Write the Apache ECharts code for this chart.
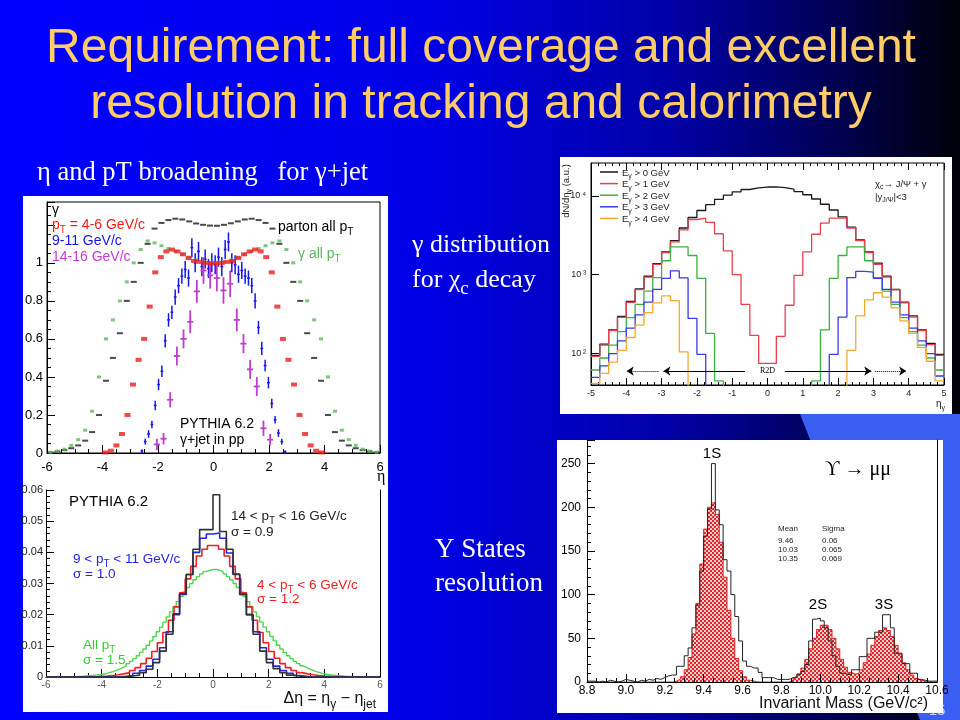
<!DOCTYPE html>
<html><head><meta charset="utf-8">
<script src="https://cdn.jsdelivr.net/npm/echarts@6/dist/echarts.min.js"></script>
<style>html,body{margin:0;padding:0;background:#0000c0;}#c{width:960px;height:720px;}</style>
</head><body><div id="c"></div>
<script>
// ================= DATA =================
// --- Top-left: eta distributions (PYTHIA 6.2, gamma+jet in pp)
const tlBinLo = -6;            // black/green: 0.25 wide bins
const tlPartonAll = [0.003,0.008,0.015,0.025,0.04,0.065,0.11,0.2,0.38,0.5,0.63,0.8,0.9,1.0,1.1,1.18,1.21,1.225,1.232,1.228,1.218,1.207,1.2,1.196,
  1.195,1.2,1.208,1.218,1.228,1.232,1.225,1.21,1.18,1.1,1.0,0.9,0.8,0.63,0.5,0.38,0.2,0.11,0.065,0.04,0.025,0.015,0.008,0.003];
const tlGammaAll = [0.004,0.01,0.02,0.04,0.07,0.12,0.22,0.4,0.6,0.7,0.8,0.9,1.0,1.07,1.115,1.105,1.09,1.075,1.06,1.045,1.03,1.015,1.005,1.0,
  1.0,1.005,1.015,1.03,1.045,1.06,1.075,1.09,1.105,1.115,1.07,1.0,0.9,0.8,0.7,0.6,0.4,0.22,0.12,0.07,0.04,0.02,0.01,0.004];
const tlPt46 = [0.003,0.012,0.04,0.1,0.2,0.36,0.49,0.6,0.77,0.95,1.03,1.06,1.07,1.06,1.045,1.025,1.01,1.005,1.0,0.998,
  0.998,1.0,1.005,1.01,1.025,1.045,1.06,1.07,1.06,1.03,0.95,0.77,0.6,0.49,0.36,0.2,0.1,0.04,0.012,0.003];   // 0.2 bins from -4
const tlPt911 = [0.01,0.06,0.10,0.15,0.25,0.36,0.43,0.59,0.70,0.74,0.82,0.88,0.93,0.965,0.92,1.08,1.00,1.06,0.98,1.02,0.97,1.00,
  0.99,1.03,0.98,1.07,1.11,1.00,0.99,0.94,0.96,0.93,0.92,0.88,0.80,0.66,0.55,0.46,0.37,0.26,0.175,0.105,0.06,0.005]; // 0.12 bins from -2.64
const tlPt911Err = [0.01,0.015,0.02,0.02,0.025,0.03,0.03,0.035,0.035,0.035,0.04,0.04,0.04,0.045,0.045,0.05,0.05,0.05,0.05,0.05,0.05,0.05,
  0.05,0.05,0.05,0.05,0.05,0.05,0.05,0.045,0.045,0.04,0.04,0.04,0.04,0.035,0.035,0.03,0.03,0.025,0.02,0.02,0.015,0.01];
const tlPt1416 = [0.045,0.075,0.28,0.51,0.60,0.69,0.85,0.96,0.935,0.92,0.855,0.89,0.70,0.575,0.44,0.35,0.13,0.07]; // 0.24 bins from -2.16
const tlPt1416Err = [0.03,0.03,0.04,0.05,0.05,0.06,0.06,0.07,0.07,0.07,0.07,0.07,0.06,0.05,0.05,0.05,0.04,0.03];

// --- Bottom-left: delta-eta histograms
const blPt1416 = [0,0,0,0,0,0,0,0,0,0,0,0,0.0003,0.0006,0.0014,0.0025,0.0046,0.0083,0.0137,0.0203,0.0267,0.0329,0.041,0.0473,0.0473,
  0.0585,0.0467,0.041,0.033,0.0265,0.020,0.0137,0.0083,0.0046,0.0027,0.0014,0.0006,0.0003,0,0,0,0,0,0,0,0,0,0,0,0]; // 0.24 bins
const blPt911 = [0,0,0,0,0,0,0,0,0,0,0,0.0002,0.0005,0.0012,0.0021,0.0035,0.0057,0.0094,0.0145,0.020,0.0265,0.0329,0.040,0.0445,0.0459,
  0.0462,0.0445,0.0398,0.0329,0.0265,0.020,0.0145,0.0094,0.0057,0.0035,0.0021,0.0012,0.0005,0.0002,0,0,0,0,0,0,0,0,0,0,0]; // 0.24 bins
const blPt46 = [0,0,0,0,0,0,0,0,0.0001,0.0002,0.0003,0.0005,0.0007,0.001,0.0014,0.0021,0.003,0.0043,0.006,0.0082,0.011,0.0143,0.0182,0.0225,0.027,0.0315,0.0355,0.0388,0.041,0.0422,
  0.0422,0.041,0.0388,0.0355,0.0315,0.027,0.0225,0.0182,0.0143,0.011,0.0082,0.006,0.0043,0.003,0.0021,0.0014,0.001,0.0007,0.0005,0.0003,0.0002,0.0001,0,0,0,0,0,0,0,0]; // 0.2 bins
const blAllPt = [0,0,0,0,0,0.0001,0.0001,0.0001,0.0001,0.0002,0.0002,0.0003,0.0004,0.0005,0.0006,0.0007,0.0009,0.0011,0.0014,0.0017,0.0021,0.0025,0.0030,0.0036,0.0043,
  0.0050,0.0059,0.0068,0.0079,0.0090,0.0102,0.0116,0.0130,0.0145,0.0160,0.0176,0.0193,0.0209,0.0226,0.0242,0.0258,0.0273,0.0287,0.0300,0.0312,0.0322,0.0331,0.0338,0.0342,0.0345,
  0.0345,0.0342,0.0338,0.0331,0.0322,0.0312,0.0300,0.0287,0.0273,0.0258,0.0242,0.0226,0.0209,0.0193,0.0176,0.0160,0.0145,0.0130,0.0116,0.0102,0.0090,0.0079,0.0068,0.0059,0.0050,
  0.0043,0.0036,0.0030,0.0025,0.0021,0.0017,0.0014,0.0011,0.0009,0.0007,0.0006,0.0005,0.0004,0.0003,0.0002,0.0002,0.0001,0.0001,0.0001,0.0001,0,0,0,0,0]; // 0.12 bins

// --- Top-right: photon eta distribution for chi_c decay (0.25 bins, -5..5)
const trE0 = [95,132,200,295,457,660,955,1380,1950,2700,3900,5300,6500,7700,9000,10200,11200,12000,12600,12900,
  12950,12700,12100,11300,10300,9100,7800,6600,5400,4000,2750,1950,1400,960,650,450,300,200,135,98];
const trE1 = [92,128,195,287,445,645,930,1350,1900,2600,3700,5000,5200,4600,3300,2000,1000,420,170,75,
  75,165,410,980,1950,3250,4500,5200,5200,3900,2700,1900,1350,930,640,440,290,195,130,95];
const trE2 = [62,88,128,190,285,420,620,920,1500,2250,2250,1750,900,180,45,10,10,10,10,10,
  10,10,10,10,10,45,200,900,1750,2250,2250,1500,920,620,420,285,190,128,88,62];
const trE3 = [50,70,100,145,210,310,450,650,900,1120,910,280,98,10,10,10,10,10,10,10,
  10,10,10,10,10,10,10,98,290,920,1100,1080,900,650,450,310,210,145,100,52];
const trE4 = [42,56,78,110,160,230,330,440,540,470,105,10,10,10,10,10,10,10,10,10,
  10,10,10,10,10,10,10,10,10,110,300,480,590,520,380,260,180,120,80,45];
const trLegend = ['E_{γ} > 0 GeV','E_{γ} > 1 GeV','E_{γ} > 2 GeV','E_{γ} > 3 GeV','E_{γ} > 4 GeV'];

// --- Bottom-right: Upsilon -> mu mu invariant mass (0.02 GeV bins, 8.8..10.6)
const brData = [1,1,0,1,0,2,1,0,1,3,2,1,0,2,1,3,2,4,3,5,
  7,8,8,18,18,30,39,62,88,127,167,198,250,197,180,140,127,100,75,47,24,18,16,16,11,5,5,5,3,3,3,
  3,5,6,9,12,20,47,72,73,70,62,47,30,18,10,9,8,14,14,29,29,50,50,57,57,77,77,62,33,33,21,21,10,10,3,2,1,1,1];
const brFit = [0,0,0,0,0,0,0,0,0,0,0,0,0,0,0,0,0,0,0,0,0,0,
  1,3,6,14,28,55,90,135,175,200,205,192,160,120,82,50,27,13,6,2,1,
  0,0,0,0,0,0,0,0,0,
  2,5,9,16,26,38,50,60,65,65,60,50,38,26,17,11,9,10,14,22,32,42,52,59,62,59,52,42,32,22,14,8,4,2,1,
  0,0,0];
const brTable = [['Mean','Sigma'],['9.46','0.06'],['10.03','0.065'],['10.35','0.069']];

// ================= HELPERS =================
function pts(lo, w, vals){ return vals.map((v,i)=>[lo + w*(i+0.5), v]); }
function hist(lo, w, vals){ const p = vals.map((v,i)=>[lo + w*i, v]); p.push([lo + w*vals.length, vals[vals.length-1]]); return p; }
function errPts(lo, w, vals, errs, ex){ return vals.map((v,i)=>[lo + w*(i+0.5), v, ex, errs[i]]); }
function mk(str){ let out='', last=0, m; const re=/_\{([^}]*)\}/g;
  while((m=re.exec(str))){ if(m.index>last) out+='{n|'+str.slice(last,m.index)+'}'; out+='{s|'+m[1]+'}'; last=re.lastIndex; }
  if(last<str.length) out+='{n|'+str.slice(last)+'}'; return out; }
function T(x,y,str,o){ o=o||{}; const fs=o.fs||14, ff=o.ff||'Liberation Sans', col=o.c||'#000', a=o.a||'left';
  const sf=Math.round(fs*0.72);
  const rot=o.rot||0, dy=fs*0.28;
  const px = rot ? x + dy : x, py = rot ? y : y + dy;
  return {type:'text', x:px, y:py, z:o.z||60, rotation:rot,
    style:{text:mk(str), align:a, textAlign:a, verticalAlign:'middle', textVerticalAlign:'middle', fill:col,
      rich:{ n:{fontSize:fs, fontFamily:ff, fill:col, color:col, lineHeight:fs+1, padding:[0,0,Math.round(fs*0.22),0], verticalAlign:'bottom'},
             s:{fontSize:sf, fontFamily:ff, fill:col, color:col, lineHeight:sf+1, verticalAlign:'bottom'} } } }; }
function errRender(color, lw){ return function(params, api){
  const x=api.value(0), y=api.value(1), ex=api.value(2), ey=api.value(3);
  const l=api.coord([x-ex,y]), r=api.coord([x+ex,y]), t=api.coord([x,y+ey]), b=api.coord([x,y-ey]);
  return {type:'group', children:[
    {type:'line', shape:{x1:l[0],y1:l[1],x2:r[0],y2:r[1]}, style:{stroke:color, lineWidth:lw}},
    {type:'line', shape:{x1:t[0],y1:t[1],x2:b[0],y2:b[1]}, style:{stroke:color, lineWidth:lw}} ]}; }; }

// hatch pattern for the fit
const pc=document.createElement('canvas'); pc.width=4; pc.height=4; const pg=pc.getContext('2d');
pg.fillStyle='#f6d0d0'; pg.fillRect(0,0,4,4); pg.fillStyle='#e02828'; pg.fillRect(0,0,2,2); pg.fillRect(2,2,2,2);

const AX = {color:'#000'};
function vx(o){ return Object.assign({type:'value', axisLine:{show:true,onZero:false,lineStyle:AX}, splitLine:{show:false},
  axisTick:{show:true,inside:true,length:8,lineStyle:AX}, minorTick:{show:true,splitNumber:5,length:4,lineStyle:AX},
  axisLabel:{color:'#000',fontFamily:'Liberation Sans',fontSize:13,margin:6}}, o); }
const sup = {2:'²',3:'³',4:'⁴'};

// ================= OPTION =================
const chart = echarts.init(document.getElementById('c'), null, {renderer:'canvas'});
const trColors = ['#1a1a1a','#e8414c','#3cb043','#3a3ae6','#f5a830'];
const option = {
  animation:false,
  backgroundColor:{type:'linear',x:0,y:0,x2:1,y2:0,colorStops:[
    {offset:0,color:'#0000ff'},{offset:0.45,color:'#0000e6'},{offset:0.7,color:'#0000a6'},{offset:0.86,color:'#000058'},{offset:1,color:'#000008'}]},
  grid:[
    {left:47, top:202, width:333, height:251, show:true, borderColor:'#000', borderWidth:1, backgroundColor:'transparent'},
    {left:46, top:490, width:334, height:187, show:false},
    {left:591, top:163, width:353, height:222, show:true, borderColor:'#000', borderWidth:1, backgroundColor:'transparent'},
    {left:587, top:440, width:350, height:242, show:false}
  ],
  xAxis:[
    vx({gridIndex:0, min:-6, max:6, interval:2, axisLabel:{color:'#000',fontFamily:'Liberation Sans',fontSize:13,margin:8},
        minorTick:{show:true,splitNumber:4,length:4,lineStyle:AX}}),
    vx({gridIndex:1, min:-6, max:6, interval:2, axisLabel:{color:'#555',fontFamily:'Liberation Sans',fontSize:10,margin:3},
        minorTick:{show:true,splitNumber:4,length:4,lineStyle:AX}}),
    vx({gridIndex:2, min:-5, max:5, interval:1, axisTick:{show:true,inside:true,length:7,lineStyle:AX},
        axisLabel:{color:'#222',fontFamily:'Liberation Sans',fontSize:9,margin:4}, minorTick:{show:true,splitNumber:5,length:3,lineStyle:AX}}),
    vx({gridIndex:3, min:8.8, max:10.6, interval:0.2, axisLabel:{color:'#000',fontFamily:'Liberation Sans',fontSize:12,margin:3,formatter:v=>v.toFixed(1)},
        minorTick:{show:true,splitNumber:4,length:4,lineStyle:AX}}),
    vx({gridIndex:2, position:'top', min:-5, max:5, interval:1, axisLine:{show:false,onZero:false}, axisLabel:{show:false},
        axisTick:{show:true,inside:true,length:7,lineStyle:AX}, minorTick:{show:true,splitNumber:5,length:3,lineStyle:AX}})
  ],
  yAxis:[
    vx({gridIndex:0, min:0, max:1.32, interval:0.2, axisLabel:{color:'#000',fontFamily:'Liberation Sans',fontSize:13,margin:4,
        formatter:v=> v>1.01 ? '' : String(+v.toFixed(1))}, minorTick:{show:true,splitNumber:4,length:4,lineStyle:AX}}),
    vx({gridIndex:1, min:0, max:0.06, interval:0.01, axisLabel:{color:'#222',fontFamily:'Liberation Sans',fontSize:11,margin:3},
        minorTick:{show:true,splitNumber:5,length:4,lineStyle:AX}}),
    {gridIndex:2, type:'log', logBase:10, min:40, max:26000, splitLine:{show:false},
        axisLine:{show:true,onZero:false,lineStyle:AX}, axisTick:{show:true,inside:true,length:8,lineStyle:AX},
        axisLabel:{color:'#222',fontFamily:'Liberation Sans',fontSize:9,margin:5,showMinLabel:false,showMaxLabel:false,
          formatter:v=>{const e=Math.log10(v), r=Math.round(e); return Math.abs(e-r)<1e-6 ? '10\u2009'+(sup[r]||r) : '';}}},
    vx({gridIndex:3, min:0, max:277, interval:50, axisLabel:{color:'#000',fontFamily:'Liberation Sans',fontSize:12,margin:6,
        formatter:v=> (Math.abs(v%50)<1e-6 ? String(v) : '')}, minorTick:{show:true,splitNumber:5,length:4,lineStyle:AX}}),
    {gridIndex:3, type:'value', position:'right', min:0, max:277, axisLine:{show:true,onZero:false,lineStyle:AX}, axisTick:{show:false}, axisLabel:{show:false}, splitLine:{show:false}},
    {gridIndex:1, type:'value', position:'right', min:0, max:0.06, axisLine:{show:true,onZero:false,lineStyle:AX}, axisTick:{show:false}, axisLabel:{show:false}, splitLine:{show:false}}
  ],
  series:[
    // top-left
    {type:'scatter', xAxisIndex:0, yAxisIndex:0, data:pts(tlBinLo,0.25,tlPartonAll), symbol:'rect', symbolSize:[6,2], itemStyle:{color:'#1a1a1a'}, silent:true},
    {type:'scatter', xAxisIndex:0, yAxisIndex:0, data:pts(tlBinLo,0.25,tlGammaAll), symbol:'rect', symbolSize:[4,3], itemStyle:{color:'#5cb85c'}, silent:true},
    {type:'scatter', xAxisIndex:0, yAxisIndex:0, data:pts(-4,0.2,tlPt46), symbol:'rect', symbolSize:[6,4], itemStyle:{color:'#ee1c1c'}, silent:true},
    {type:'custom', xAxisIndex:0, yAxisIndex:0, data:errPts(-2.64,0.12,tlPt911,tlPt911Err,0.05), encode:{x:0,y:1}, renderItem:errRender('#1515e8',1.5), silent:true},
    {type:'custom', xAxisIndex:0, yAxisIndex:0, data:errPts(-2.16,0.24,tlPt1416,tlPt1416Err,0.11), encode:{x:0,y:1}, renderItem:errRender('#c23bd0',1.8), silent:true},
    // bottom-left
    {type:'line', xAxisIndex:1, yAxisIndex:1, data:hist(-6,0.12,blAllPt), step:'end', symbol:'none', lineStyle:{color:'#4fd64f',width:1.4}, silent:true},
    {type:'line', xAxisIndex:1, yAxisIndex:1, data:hist(-6,0.2,blPt46), step:'end', symbol:'none', lineStyle:{color:'#ee2020',width:1.6}, silent:true},
    {type:'line', xAxisIndex:1, yAxisIndex:1, data:hist(-6,0.24,blPt911), step:'end', symbol:'none', lineStyle:{color:'#2424e8',width:1.6}, silent:true},
    {type:'line', xAxisIndex:1, yAxisIndex:1, data:hist(-6,0.24,blPt1416), step:'end', symbol:'none', lineStyle:{color:'#333',width:1.6}, silent:true},
    // top-right
    {type:'line', xAxisIndex:2, yAxisIndex:2, data:hist(-5,0.25,trE0), step:'end', symbol:'none', lineStyle:{color:trColors[0],width:1.3}, silent:true,
      markLine:{silent:true, symbol:['none','arrow'], symbolSize:7, label:{show:false}, lineStyle:{color:'#000',width:1,type:'solid'},
        data:[[{coord:[-0.64,60]},{coord:[-2.95,60]}],[{coord:[0.49,60]},{coord:[2.94,60]}]]},
      markPoint:{silent:true, data:[{coord:[0,60], symbol:'rect', symbolSize:[24,11], itemStyle:{color:'#fff'},
        label:{show:true, position:'inside', formatter:'R2D', color:'#000', fontSize:8, fontFamily:'Liberation Serif'}}]}},
    {type:'line', xAxisIndex:2, yAxisIndex:2, data:hist(-5,0.25,trE1), step:'end', symbol:'none', lineStyle:{color:trColors[1],width:1.3}, silent:true,
      markLine:{silent:true, symbol:['none','arrow'], symbolSize:7, label:{show:false}, lineStyle:{color:'#000',width:1,type:'dotted'},
        data:[[{coord:[-3.09,60]},{coord:[-3.99,60]}],[{coord:[3.04,60]},{coord:[3.93,60]}]]}},
    {type:'line', xAxisIndex:2, yAxisIndex:2, data:hist(-5,0.25,trE2), step:'end', symbol:'none', lineStyle:{color:trColors[2],width:1.3}, silent:true},
    {type:'line', xAxisIndex:2, yAxisIndex:2, data:hist(-5,0.25,trE3), step:'end', symbol:'none', lineStyle:{color:trColors[3],width:1.3}, silent:true},
    {type:'line', xAxisIndex:2, yAxisIndex:2, data:hist(-5,0.25,trE4), step:'end', symbol:'none', lineStyle:{color:trColors[4],width:1.3}, silent:true},
    // bottom-right
    {type:'line', xAxisIndex:3, yAxisIndex:3, data:hist(8.8,0.02,brFit), step:'end', symbol:'none', z:-1,
      lineStyle:{color:'#e02020',width:1}, areaStyle:{color:{image:pc, repeat:'repeat'}, opacity:1}, silent:true},
    {type:'line', xAxisIndex:3, yAxisIndex:3, data:hist(8.8,0.02,brData), step:'end', symbol:'none', lineStyle:{color:'#222',width:1}, silent:true}
  ],
  graphic:{elements:[]}
};

const G = option.graphic.elements;
// decorative background shapes
G.push({type:'polygon', z:-120, shape:{points:[[800,414],[960,414],[960,720],[920,720]]}, style:{fill:'#3a5ef2'}});
G.push({type:'text', z:-110, x:937, y:711, style:{text:'15', fill:'#c8d4ff', font:'15px Liberation Sans', align:'center', verticalAlign:'middle', textAlign:'center', textVerticalAlign:'middle'}});
// white panels
G.push({type:'rect', z:-100, shape:{x:23,y:196,width:365,height:516}, style:{fill:'#fff'}});
G.push({type:'rect', z:-100, shape:{x:560,y:157,width:392,height:257}, style:{fill:'#fff'}});
G.push({type:'rect', z:-100, shape:{x:557,y:440,width:386,height:273}, style:{fill:'#fff'}});
// title
G.push(T(481,46,'Requirement: full coverage and excellent',{fs:48,c:'#ffcc66',a:'center'}));
G.push(T(481,102,'resolution in tracking and calorimetry',{fs:48,c:'#ffcc66',a:'center'}));
// slide side texts
G.push(T(37,171,'η and pT broadening   for γ+jet',{fs:26.5,ff:'Liberation Serif',c:'#fff'}));
G.push(T(412,243,'γ distribution',{fs:26,ff:'Liberation Serif',c:'#fff'}));
G.push(T(412,278,'for χ_{c} decay',{fs:26,ff:'Liberation Serif',c:'#fff'}));
G.push(T(435,548,'Y States',{fs:27,ff:'Liberation Serif',c:'#fff'}));
G.push(T(435,582,'resolution',{fs:27,ff:'Liberation Serif',c:'#fff'}));
// top-left texts
G.push(T(52,209,'γ',{fs:14}));
G.push(T(52,224,'p_{T} = 4-6 GeV/c',{fs:14,c:'#ee1c1c'}));
G.push(T(52,240,'9-11 GeV/c',{fs:14,c:'#1515e8'}));
G.push(T(52,256,'14-16 GeV/c',{fs:14,c:'#c23bd0'}));
G.push(T(278,226,'parton all p_{T}',{fs:14}));
G.push(T(298,253,'γ all p_{T}',{fs:14,c:'#5cb85c'}));
G.push(T(180,423,'PYTHIA 6.2',{fs:14}));
G.push(T(180,439,'γ+jet in pp',{fs:14}));
G.push(T(377,476,'η',{fs:16,ff:'Liberation Serif'}));
// bottom-left texts
G.push(T(69,500,'PYTHIA 6.2',{fs:15}));
G.push(T(231,515,'14 < p_{T} < 16 GeV/c',{fs:13.5,c:'#222'}));
G.push(T(231,531,'σ = 0.9',{fs:13.5,c:'#222'}));
G.push(T(73,558,'9 < p_{T} < 11 GeV/c',{fs:13.5,c:'#2424e8'}));
G.push(T(73,573,'σ = 1.0',{fs:13.5,c:'#2424e8'}));
G.push(T(257,584,'4 < p_{T} < 6 GeV/c',{fs:13.5,c:'#ee2020'}));
G.push(T(257,598,'σ = 1.2',{fs:13.5,c:'#ee2020'}));
G.push(T(83,644,'All p_{T}',{fs:13.5,c:'#33cc33'}));
G.push(T(83,659,'σ = 1.5',{fs:13.5,c:'#33cc33'}));
G.push(T(376,698,'Δη = η_{γ} − η_{jet}',{fs:16,c:'#111',a:'right'}));
// top-right legend and texts
trLegend.forEach((s,i)=>{ const y=172+11.6*i;
  G.push({type:'line', z:60, shape:{x1:600,y1:y,x2:618,y2:y}, style:{stroke:trColors[i], lineWidth:1.5}});
  G.push(T(622,y,s,{fs:9.5,c:'#222'})); });
G.push(T(875,183,'χ_{c}→ J/Ψ + γ',{fs:9.5,c:'#222'}));
G.push(T(875,196,'|y_{J/Ψ}|<3',{fs:9.5,c:'#222'}));
G.push(T(565,191,'dN/dη_{γ} (a.u.)',{fs:9.5,c:'#222',a:'center',rot:Math.PI/2}));
G.push(T(936,403,'η_{γ}',{fs:10,c:'#222'}));
// bottom-right texts
G.push(T(712,452,'1S',{fs:15,a:'center'}));
G.push(T(818,603,'2S',{fs:15,a:'center'}));
G.push(T(884,603,'3S',{fs:15,a:'center'}));
G.push(T(825,468,'ϒ → μμ',{fs:20,ff:'Liberation Serif'}));
brTable.forEach((r,i)=>{ const y=[528,540,549,558][i]; G.push(T(778,y,r[0],{fs:8,c:'#222'})); G.push(T(822,y,r[1],{fs:8,c:'#222'})); });
G.push(T(928,703,'Invariant Mass (GeV/c²)',{fs:16,c:'#111',a:'right'}));

chart.setOption(option);
</script></body></html>
